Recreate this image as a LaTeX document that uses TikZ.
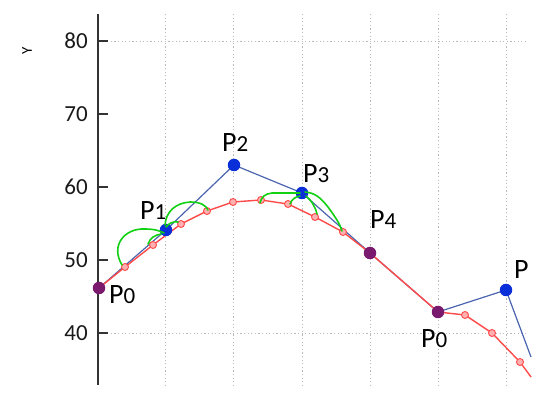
\documentclass[tikz,border=0pt]{standalone}
\usepackage{fontspec}
\setmainfont{Carlito}
\definecolor{polyblue}{HTML}{4A64B0}
\definecolor{dotblue}{HTML}{0A2ED8}
\definecolor{curvered}{HTML}{FF4A4A}
\definecolor{markfill}{HTML}{FFB0B0}
\definecolor{dotpurple}{HTML}{7A1A6E}
\definecolor{arcgreen}{HTML}{12D012}
\newcommand\plab[1]{P{\fontsize{23}{23}\selectfont #1}}
\begin{document}
\begin{tikzpicture}[x=1pt,y=-1pt,
  gridline/.style={draw=gray!55, line width=0.9pt, dash pattern=on 1.2pt off 2.4pt},
  axisline/.style={draw=black!80, line width=2.2pt},
  tickline/.style={draw=black!80, line width=1.8pt},
  ticklab/.style={anchor=base east, inner sep=0, font=\fontsize{23}{23}\selectfont, text=black!90},
  ctrlline/.style={draw=polyblue, line width=1.2pt},
  curveline/.style={draw=curvered, line width=1.4pt},
  rmark/.style={circle, draw=curvered, fill=markfill, line width=0.9pt, minimum size=7pt, inner sep=0},
  bdot/.style={circle, fill=dotblue, minimum size=12.5pt, inner sep=0},
  pdot/.style={circle, fill=dotpurple, minimum size=12.5pt, inner sep=0},
  arc/.style={draw=arcgreen, line width=1.6pt, line cap=round},
  plabel/.style={anchor=base west, inner sep=0, font=\fontsize{28}{28}\selectfont}]
\useasboundingbox (0,0) rectangle (550,398);
% grid
\foreach \gx in {165,233,302,370,438,506} {
  \draw[gridline] (\gx,14) -- (\gx,385);
}
\draw[gridline] (100,41) -- (527,41);
\draw[gridline] (100,333) -- (527,333);
% axis
\draw[axisline] (98,14) -- (98,385);
\foreach \v/\ty in {80/41,70/114,60/187,50/260,40/333} {
  \draw[tickline] (98,\ty) -- (108,\ty);
  \node[ticklab] (t\v) at (88,\ty+7.5) {\v};
}
\node[rotate=90, font=\fontsize{15}{15}\selectfont, inner sep=0] (ylab) at (27,51) {Y};
% control points
\coordinate (a0) at (99,288);
\coordinate (a1) at (166,230);
\coordinate (a2) at (234,165);
\coordinate (a3) at (302,193);
\coordinate (a4) at (370,253);
\coordinate (b0) at (438,312);
\coordinate (b1) at (506,290);
\coordinate (bend) at (531,357);
\draw[ctrlline] (a0) -- (a1) -- (a2) -- (a3) -- (a4) -- (b0) -- (b1) -- (bend);
% curve samples
\coordinate (r1) at (125,267);
\coordinate (r2) at (153,245);
\coordinate (r3) at (181,224);
\coordinate (r4) at (207,211);
\coordinate (r5) at (233,202);
\coordinate (r6) at (261,200);
\coordinate (r7) at (288,204);
\coordinate (r8) at (315,217);
\coordinate (r9) at (343,232);
\coordinate (s1) at (465,315);
\coordinate (s2) at (492,333);
\coordinate (s3) at (520,362);
\coordinate (send) at (531,377);
\draw[curveline] (a0) -- (r1) -- (r2) -- (r3) -- (r4) -- (r5) -- (r6) -- (r7) -- (r8) -- (r9) -- (a4) -- (b0) -- (s1) -- (s2) -- (s3) -- (send);
\foreach \r in {r1,r2,r3,r4,r5,r6,r7,r8,r9,s1,s2,s3} {
  \node[rmark] (m\r) at (\r) {};
}
% big dots
\node[pdot] (P0) at (a0) {};
\node[bdot] (P1) at (a1) {};
\node[bdot] (P2) at (a2) {};
\node[bdot] (P3) at (a3) {};
\node[pdot] (P4) at (a4) {};
\node[pdot] (Q0) at (b0) {};
\node[bdot] (Q1) at (b1) {};
% green curvature arcs
\draw[arc] (122,265) .. controls (110,245) and (125,228) .. (145,229) .. controls (155,229) and (160,231) .. (164,233);
\draw[arc] (148,244) .. controls (150,238) and (155,235) .. (161,234);
\draw[arc] (165,225) .. controls (166,212) and (175,203) .. (190,202) .. controls (200,202) and (206,205) .. (208,210);
\draw[arc] (166,227) .. controls (169,223) and (174,221) .. (178,222);
\draw[arc] (260,203) .. controls (262,196) and (265,194) .. (272,193) -- (300,193);
\draw[arc] (290,204) .. controls (292,199) and (295,197) .. (300,196);
\draw[arc] (305,192) .. controls (315,193) and (320,197) .. (328,207) .. controls (336,218) and (340,224) .. (342,231);
\draw[arc] (306,196) .. controls (311,200) and (315,206) .. (317,214);
% labels
\node[plabel] (l0) at (109,304) {\plab{0}};
\node[plabel] (l1) at (140,220) {\plab{1}};
\node[plabel] (l2) at (222,152) {\plab{2}};
\node[plabel] (l3) at (303,183) {\plab{3}};
\node[plabel] (l4) at (370,229) {\plab{4}};
\node[plabel] (l5) at (421,348) {\plab{0}};
\node[plabel] (l6) at (514,279) {P};
\end{tikzpicture}
\end{document}
